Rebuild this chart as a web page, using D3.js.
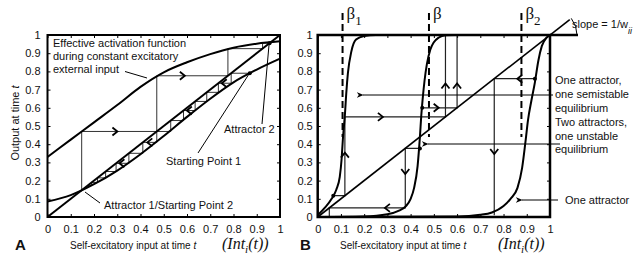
<!DOCTYPE html>
<html><head><meta charset="utf-8">
<script src="https://cdn.jsdelivr.net/npm/d3@7"></script>
<style>
body{margin:0;background:#fff}
svg{display:block}
text{font-family:"Liberation Sans",Arial,sans-serif;fill:#111}
.ser{font-family:"Liberation Serif","Times New Roman",serif}
</style>
</head><body><svg id="c" width="644" height="259"></svg>
<script>
// ---------- data ----------
const tickValues=[0,0.1,0.2,0.3,0.4,0.5,0.6,0.7,0.8,0.9,1];
const tickLabels=["0","0.1","0.2","0.3","0.4","0.5","0.6","0.7","0.8","0.9","1"];

// Panel A curves
const aUpperX=[0,0.1,0.2,0.3,0.4,0.5,0.6,0.7,0.8,0.9,1];
const aUpperY=[0.33,0.425,0.52,0.615,0.715,0.795,0.85,0.895,0.93,0.952,0.965];
const aLowerX=[0,0.1,0.2,0.3,0.4,0.5,0.6,0.7,0.8,0.9,1];
const aLowerY=[0.085,0.12,0.18,0.255,0.345,0.445,0.55,0.65,0.74,0.81,0.87];
// Panel A cobwebs
const aUpperStepX=[0.147,0.147,0.47,0.47,0.776,0.776,0.925,0.925,0.955];
const aUpperStepY=[0.147,0.47,0.47,0.776,0.776,0.925,0.925,0.955,0.955];
const aLowerStart=[0.87,0.79];
const aLowerLevels=[0.79,0.735,0.685,0.635,0.585,0.53,0.47,0.41,0.35,0.295,0.25,0.215,0.19,0.174,0.162,0.155];
const aArrowX=[0.29,0.58,0.76,0.61,0.44,0.32];
const aArrowY=[0.47,0.776,0.735,0.585,0.41,0.295];
const aArrowDir=["r","r","l","l","l","l"];
const aDotX=[0.87,0.955];
const aDotY=[0.79,0.955];

// Panel B curves
const b1X=[0,0.03,0.06,0.08,0.095,0.103,0.108,0.113,0.117,0.123,0.13,0.145,0.165,0.2,0.25,1];
const b1Y=[0.01,0.05,0.1,0.15,0.22,0.32,0.42,0.5,0.56,0.68,0.79,0.91,0.975,0.995,1,1];
const b2X=[0,0.2,0.3,0.35,0.38,0.4,0.415,0.43,0.44,0.446,0.452,0.46,0.47,0.485,0.5,0.52,0.55,0.6,1];
const b2Y=[0,0.003,0.015,0.035,0.06,0.1,0.16,0.28,0.44,0.56,0.65,0.75,0.84,0.92,0.96,0.985,0.998,1,1];
const b3X=[0,0.6,0.7,0.75,0.8,0.83,0.86,0.88,0.895,0.905,0.92,0.935,0.95,0.965,0.985,1];
const b3Y=[0,0.003,0.012,0.025,0.06,0.1,0.16,0.27,0.42,0.53,0.64,0.74,0.86,0.94,0.985,1];
const betaX=[0.107,0.479,0.877];
const betaSub=["1","","2"];
// Panel B cobwebs
const bWeb1X=[0.067,0.117,0.117,0.55,0.55], bWeb1Y=[0.117,0.117,0.55,0.55,1];
const bWeb2X=[0.44,0.377,0.377,0.05,0.05],  bWeb2Y=[0.377,0.377,0.05,0.05,0];
const bWeb3X=[0.45,0.6,0.6],                bWeb3Y=[0.6,0.6,1];
const bWeb4X=[0.935,0.76,0.76],             bWeb4Y=[0.76,0.76,0.01];
const bArrowX=[0.27,0.55,0.6,0.51,0.87,0.76,0.377,0.30,0.117];
const bArrowY=[0.55,0.72,0.72,0.6,0.76,0.36,0.25,0.05,0.34];
const bArrowDir=["r","u","u","r","l","d","d","l","u"];
const bDotX=[0.067,0.44,0.45,0.935];
const bDotY=[0.117,0.377,0.6,0.76];

// ---------- drawing ----------
const svg=d3.select("#c");
svg.append("rect").attr("width",644).attr("height",259).attr("fill","#fff");
const zip=(xs,ys)=>xs.map((x,i)=>[x,ys[i]]);

function panel(x,y,labelPad){
  const g=svg.append("g");
  const fmt=(d,i)=>tickLabels[i];
  const yb=y(0), yt=y(1), xl=x(0), xr=x(1);
  const ax=(a,tr,lab)=>{
    const gg=g.append("g").attr("transform",tr).call(a);
    gg.select(".domain").remove();
    gg.selectAll(".tick line").attr("stroke","#000");
    gg.selectAll("text").attr("font-size",11).attr("fill","#111").attr("font-family","Liberation Sans, Arial, sans-serif");
    if(!lab) gg.selectAll("text").remove();
  };
  ax(d3.axisBottom(x).tickValues(tickValues).tickFormat(fmt).tickSize(-3).tickPadding(8),`translate(0,${yb})`,true);
  ax(d3.axisTop(x).tickValues(tickValues).tickSize(-3),`translate(0,${yt})`,false);
  ax(d3.axisLeft(y).tickValues(tickValues).tickFormat(fmt).tickSize(-3).tickPadding(labelPad),`translate(${xl},0)`,true);
  ax(d3.axisRight(y).tickValues(tickValues).tickSize(-3),`translate(${xr},0)`,false);
  return g;
}
function chevron(g,px,py,dir){
  const rot={r:0,l:180,u:-90,d:90}[dir];
  g.append("path").attr("d","M-2.5,-4L2.5,0L-2.5,4").attr("fill","none").attr("stroke","#000")
   .attr("stroke-width",1.8).attr("transform",`translate(${px},${py}) rotate(${rot})`);
}
const lineOf=(x,y,c)=>d3.line().x(d=>x(d[0])).y(d=>y(d[1])).curve(c||d3.curveLinear);

// ===== Panel A =====
const xA=d3.scaleLinear([0,1],[47.5,280]);
const yA=d3.scaleLinear([0,1],[217,35]);
const gA=panel(xA,yA,7);
// cobwebs
gA.append("path").attr("d",lineOf(xA,yA)(zip(aUpperStepX,aUpperStepY))).attr("fill","none").attr("stroke","#333").attr("stroke-width",1);
const lowPts=[aLowerStart];
aLowerLevels.forEach((L,i)=>{ lowPts.push([L,L]); if(i+1<aLowerLevels.length) lowPts.push([L,aLowerLevels[i+1]]); });
gA.append("path").attr("d",lineOf(xA,yA)(lowPts)).attr("fill","none").attr("stroke","#333").attr("stroke-width",1);
// curves
gA.append("path").attr("d",lineOf(xA,yA,d3.curveMonotoneX)(zip(aUpperX,aUpperY))).attr("fill","none").attr("stroke","#000").attr("stroke-width",2);
gA.append("path").attr("d",lineOf(xA,yA,d3.curveMonotoneX)(zip(aLowerX,aLowerY))).attr("fill","none").attr("stroke","#000").attr("stroke-width",2);
gA.append("path").attr("d",lineOf(xA,yA)([[0,0],[1,1]])).attr("fill","none").attr("stroke","#000").attr("stroke-width",2);
aArrowX.forEach((v,i)=>chevron(gA,xA(v),yA(aArrowY[i]),aArrowDir[i]));
aDotX.forEach((v,i)=>gA.append("circle").attr("cx",xA(v)).attr("cy",yA(aDotY[i])).attr("r",2).attr("fill","#000"));
gA.append("rect").attr("x",xA(0)).attr("y",yA(1)).attr("width",xA(1)-xA(0)).attr("height",yA(0)-yA(1)).attr("fill","none").attr("stroke","#000").attr("stroke-width",2);
// annotations A
const ann=(g,x,y,t,fs)=>g.append("text").attr("x",x).attr("y",y).attr("font-size",fs||11).text(t);
ann(gA,53,47,"Effective activation function");
ann(gA,53,60,"during constant excitatory");
ann(gA,53,73,"external input");
const seg=(g,x1,y1,x2,y2,w)=>g.append("line").attr("x1",x1).attr("y1",y1).attr("x2",x2).attr("y2",y2).attr("stroke","#000").attr("stroke-width",w||1);
seg(gA,125,71.5,147,78);
ann(gA,224,133,"Attractor 2");
seg(gA,262,124,269,45);
ann(gA,166,165,"Starting Point 1");
seg(gA,198,153,249,74);
ann(gA,104,209,"Attractor 1/Starting Point 2");
seg(gA,100,203,85,192);
// axis titles A
svg.append("text").attr("transform","translate(19,123) rotate(-90)").attr("text-anchor","middle").attr("font-size",11).text("Output at time ").append("tspan").attr("font-style","italic").text("t");
const xt=(x0,x1)=>{
  const t=svg.append("text").attr("x",x0).attr("y",249).attr("font-size",10).text("Self-excitatory input at time ");
  t.append("tspan").attr("font-style","italic").text("t");
  const s=svg.append("text").attr("class","ser").attr("x",x1).attr("y",249).attr("font-size",16).attr("font-style","italic");
  s.append("tspan").text("(Int");
  s.append("tspan").attr("dy",4).attr("font-size",11).text("i");
  s.append("tspan").attr("dy",-4).text("(t))");
};
xt(70,222);
svg.append("text").attr("x",15).attr("y",250).attr("font-size",15).attr("font-weight","bold").text("A");

// ===== Panel B =====
const xB=d3.scaleLinear([0,1],[317.7,550]);
const yB=d3.scaleLinear([0,1],[217,35]);
const gB=panel(xB,yB,5);
// dashed beta lines
betaX.forEach((b,i)=>{
  gB.append("line").attr("x1",xB(b)).attr("x2",xB(b)).attr("y1",13).attr("y2",137).attr("stroke","#000").attr("stroke-width",2).attr("stroke-dasharray","7,4");
  const t=gB.append("text").attr("class","ser").attr("x",xB(b)+4).attr("y",19).attr("font-size",17).text("β");
  if(betaSub[i]) t.append("tspan").attr("dy",6).attr("font-size",13).text(betaSub[i]);
});
// cobwebs
[[bWeb1X,bWeb1Y],[bWeb2X,bWeb2Y],[bWeb3X,bWeb3Y],[bWeb4X,bWeb4Y]].forEach(([xs,ys])=>
  gB.append("path").attr("d",lineOf(xB,yB)(zip(xs,ys))).attr("fill","none").attr("stroke","#222").attr("stroke-width",1.2));
// curves
[[b1X,b1Y],[b2X,b2Y],[b3X,b3Y]].forEach(([xs,ys])=>
  gB.append("path").attr("d",lineOf(xB,yB,d3.curveMonotoneX)(zip(xs,ys))).attr("fill","none").attr("stroke","#000").attr("stroke-width",2));
gB.append("path").attr("d",lineOf(xB,yB)([[0,0],[1.085,1.085]])).attr("fill","none").attr("stroke","#000").attr("stroke-width",1.6);
bArrowX.forEach((v,i)=>chevron(gB,xB(v),yB(bArrowY[i]),bArrowDir[i]));
bDotX.forEach((v,i)=>gB.append("circle").attr("cx",xB(v)).attr("cy",yB(bDotY[i])).attr("r",2).attr("fill","#000"));
gB.append("rect").attr("x",xB(0)).attr("y",yB(1)).attr("width",xB(1)-xB(0)).attr("height",yB(0)-yB(1)).attr("fill","none").attr("stroke","#000").attr("stroke-width",2.5);
seg(gB,xB(1),yB(1),578,yB(1),2.5);
// slope arc
const cx=xB(1), cy=yB(1), r=27, ang=Math.atan2(182,232.5);
gB.append("path").attr("d",`M${cx+r*Math.cos(ang)},${cy-r*Math.sin(ang)} A${r},${r} 0 0 1 ${cx+r},${cy}`).attr("fill","none").attr("stroke","#000").attr("stroke-width",1);
const sl=ann(gB,572,28,"slope = 1/w");
sl.append("tspan").attr("dy",6).attr("font-size",9).attr("font-style","italic").text("ii");
// right annotations
svg.append("defs").append("marker").attr("id","ah").attr("viewBox","0 0 10 10").attr("refX",1).attr("refY",5)
  .attr("markerWidth",7).attr("markerHeight",7).attr("orient","auto-start-reverse").attr("markerUnits","userSpaceOnUse")
  .append("path").attr("d","M0,5L10,1L7,5L10,9Z").attr("fill","#000");
const arr=(x1,y1,x2)=>gB.append("line").attr("x1",x1).attr("y1",y1).attr("x2",x2).attr("y2",y1).attr("stroke","#000").attr("stroke-width",1).attr("marker-end","url(#ah)");
ann(gB,555,84,"One attractor,");
ann(gB,555,98,"one semistable");
ann(gB,555,112,"equilibrium");
arr(553,95,363);
ann(gB,555,126,"Two attractors,");
ann(gB,555,140,"one unstable");
ann(gB,555,153,"equilibrium");
arr(560,144,428);
ann(gB,565,204,"One attractor");
arr(558,200,522);
xt(340,498);
svg.append("text").attr("x",300).attr("y",250).attr("font-size",15).attr("font-weight","bold").text("B");
</script></body></html>
